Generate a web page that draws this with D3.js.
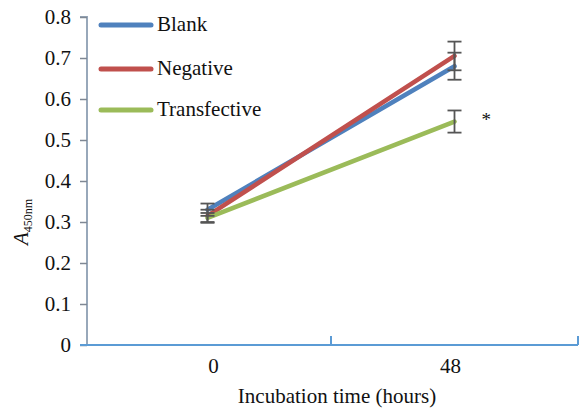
<!DOCTYPE html>
<html>
<head>
<meta charset="utf-8">
<script src="https://cdn.jsdelivr.net/npm/d3@7"></script>
<style>
  body { margin: 0; background: #fff; }
  svg text { font-family: "Liberation Serif", "Times New Roman", serif; fill: #111; }
</style>
</head>
<body>
<svg id="chart" width="581" height="409"></svg>
<script>
const times = ['0', '48'];
const seriesNames = ['Blank', 'Negative', 'Transfective'];
const blank = [0.33, 0.68];
const negative = [0.315, 0.705];
const transfective = [0.31, 0.545];
const blankErr = [0.015, 0.033];
const negativeErr = [0.015, 0.035];
const transfectiveErr = [0.012, 0.027];
const yTicks = [0, 0.1, 0.2, 0.3, 0.4, 0.5, 0.6, 0.7, 0.8];
const colors = ['#4f81bd', '#c0504d', '#9bbb59'];

const series = [
  { name: seriesNames[0], values: blank, err: blankErr },
  { name: seriesNames[1], values: negative, err: negativeErr },
  { name: seriesNames[2], values: transfective, err: transfectiveErr }
];

const $svg = d3.select('#chart');
const axisX = 87, plotLeft = 84, plotRight = 578, plotTop = 17, plotBottom = 345;

const x = d3.scaleBand().domain(times).range([plotLeft, plotRight]);
const y = d3.scaleLinear().domain([0, 0.8]).range([plotBottom, plotTop]);

// y axis
const $yAxis = $svg.append('g')
  .attr('transform', `translate(${axisX},0)`)
  .call(d3.axisLeft(y).tickValues(yTicks).tickSize(7).tickPadding(9)
    .tickFormat(d => d === 0 ? '0' : d3.format('.1f')(d)));
$yAxis.select('.domain').attr('stroke', '#98a8ba').attr('stroke-width', 2)
  .attr('d', `M-7,${plotTop}H0V${plotBottom}`);
$yAxis.selectAll('.tick line').attr('stroke', '#7f8894').attr('stroke-width', 1.5);
$yAxis.selectAll('.tick text').attr('font-size', 21).attr('dy', '0.33em');

// x axis
const $xAxis = $svg.append('g')
  .attr('transform', `translate(0,${plotBottom})`)
  .call(d3.axisBottom(x).tickSize(0).tickPadding(13));
$xAxis.select('.domain').attr('stroke', '#5b9bd5').attr('stroke-width', 2)
  .attr('d', `M80,0H${plotRight}`);
$xAxis.selectAll('.tick text').attr('font-size', 21).attr('dy', '0.71em')
  .attr('dx', d => d === '0' ? 6 : -4);
$xAxis.selectAll('.sep')
  .data([x('48'), plotRight])
  .enter()
  .append('line')
  .attr('class', 'sep')
  .attr('x1', d => d).attr('x2', d => d)
  .attr('y1', 0).attr('y2', -9)
  .attr('stroke', '#5b9bd5').attr('stroke-width', 2);

$svg.append('text')
  .attr('x', 337)
  .attr('y', 403)
  .attr('text-anchor', 'middle')
  .attr('font-size', 21)
  .text('Incubation time (hours)');

// y label
const $yLabel = $svg.append('text')
  .attr('transform', 'translate(28,222) rotate(-90)')
  .attr('text-anchor', 'middle')
  .attr('font-size', 21);
$yLabel.append('tspan').attr('font-style', 'italic').text('A');
$yLabel.append('tspan').attr('font-size', 12).attr('dy', 4).text('450nm');

const cx = d => x(d) + x.bandwidth() / 2;

// lines
const line = d3.line().x((d, i) => cx(times[i])).y(d => y(d));
$svg.selectAll('.series')
  .data(series)
  .enter()
  .append('path')
  .attr('class', 'series')
  .attr('d', d => line(d.values))
  .attr('fill', 'none')
  .attr('stroke', (d, i) => colors[i])
  .attr('stroke-width', 4.5)
  .attr('stroke-linecap', 'round');

// error bars
const bars = [];
series.forEach(s => s.values.forEach((v, i) => bars.push({ t: times[i], v, e: s.err[i] })));
const $err = $svg.selectAll('.err')
  .data(bars)
  .enter()
  .append('g')
  .attr('class', 'err')
  .attr('stroke', '#555')
  .attr('stroke-width', 1.8);
$err.append('line')
  .attr('x1', d => cx(d.t)).attr('x2', d => cx(d.t))
  .attr('y1', d => y(d.v + d.e)).attr('y2', d => y(d.v - d.e));
$err.append('line')
  .attr('x1', d => cx(d.t) - 7).attr('x2', d => cx(d.t) + 7)
  .attr('y1', d => y(d.v + d.e)).attr('y2', d => y(d.v + d.e));
$err.append('line')
  .attr('x1', d => cx(d.t) - 7).attr('x2', d => cx(d.t) + 7)
  .attr('y1', d => y(d.v - d.e)).attr('y2', d => y(d.v - d.e));

// significance mark
$svg.append('text')
  .attr('x', cx('48') + 27)
  .attr('y', y(0.545) + 4)
  .attr('font-size', 19)
  .text('*');

// legend
const $legend = $svg.selectAll('.legend')
  .data(seriesNames)
  .enter()
  .append('g')
  .attr('class', 'legend')
  .attr('transform', (d, i) => `translate(101,${[25, 69, 110][i]})`);
$legend.append('line')
  .attr('x1', 0).attr('x2', 50)
  .attr('stroke', (d, i) => colors[i])
  .attr('stroke-width', 5)
  .attr('stroke-linecap', 'round');
$legend.append('text')
  .attr('x', 56)
  .attr('dy', '0.3em')
  .attr('font-size', 21)
  .text(d => d);
</script>
</body>
</html>
